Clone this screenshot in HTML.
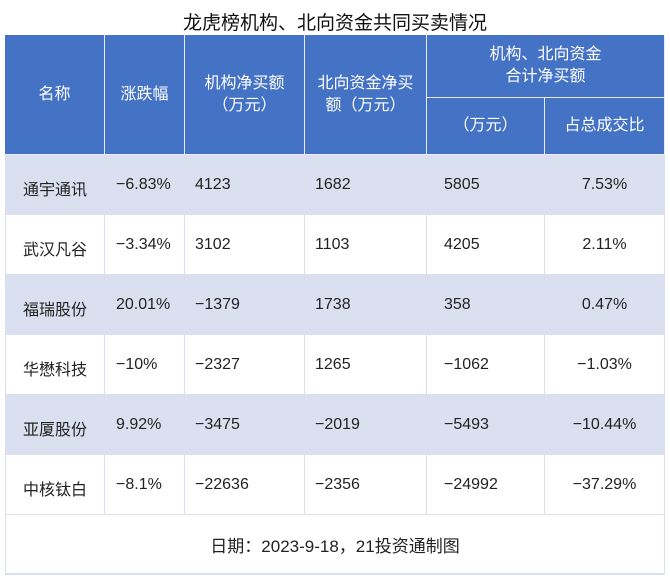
<!DOCTYPE html>
<html><head><meta charset="utf-8"><style>
body{margin:0;width:670px;height:580px;background:#fff;font-family:"Liberation Sans","Noto Sans CJK SC",sans-serif;position:relative;overflow:hidden}
.title{position:absolute;left:0;top:8px;width:670px;text-align:center;font-size:19px;color:#111}
.c{position:absolute;box-sizing:border-box;display:flex;align-items:center;font-size:16px;color:#222}
.h{background:#4472c4;color:#fff;justify-content:center;text-align:center;line-height:22px;border-right:1px solid #e8ecf7;border-bottom:1px solid #e8ecf7}
.d{border-right:1px solid #dbe0f0;border-bottom:1px solid #dbe0f0}
</style></head><body>
<div class="title">龙虎榜机构、北向资金共同买卖情况</div>
<div id="tbl"></div>
<script>
const names=["通宇通讯","武汉凡谷","福瑞股份","华懋科技","亚厦股份","中核钛白"];
const changes=["−6.83%","−3.34%","20.01%","−10%","9.92%","−8.1%"];
const instBuy=["4123","3102","−1379","−2327","−3475","−22636"];
const northBuy=["1682","1103","1738","1265","−2019","−2356"];
const totalBuy=["5805","4205","358","−1062","−5493","−24992"];
const ratio=["7.53%","2.11%","0.47%","−1.03%","−10.44%","−37.29%"];
const cols=[5,105,185,305,427,545,665];
const tbl=document.getElementById('tbl');
function cell(x,y,w,h,cls,txt,name,style){
 const d=document.createElement('div');
 d.className='c '+cls;
 d.style.left=x+'px';d.style.top=y+'px';d.style.width=w+'px';d.style.height=h+'px';
 if(style)d.style.cssText+=style;
 d.innerHTML=txt;
 
 
 tbl.appendChild(d);return d;
}
const hdr=["名称","涨跌幅","机构净买额<br>（万元）","北向资金净买<br>额（万元）"];
for(let i=0;i<4;i++)cell(cols[i],35,cols[i+1]-cols[i],120,'h',hdr[i],'header-'+i);
cell(427,35,238,63,'h','机构、北向资金<br>合计净买额','header-combined');
cell(427,98,118,57,'h','（万元）','header-total-unit');
cell(545,98,120,57,'h','占总成交比','header-ratio');
const pads=[0,11,10,10,17,0];
for(let r=0;r<names.length;r++){
 const y=155+r*60,bg=r%2==0?'#dbe0f1':'#fff';
 const vals=[names[r],changes[r],instBuy[r],northBuy[r],totalBuy[r],ratio[r]];
 for(let c=0;c<6;c++){
  const st='background:'+bg+';'+(c==0||c==5?'justify-content:center;':'padding-left:'+pads[c]+'px;')+(c==0?'padding-top:6px;':'')+(c==0?'border-left:1px solid #dbe0f0;':'');
  cell(cols[c],y,cols[c+1]-cols[c],60,'d',vals[c],'cell-r'+r+'-c'+c,st);
 }
}
cell(5,515,660,60,'d','日期：2023-9-18，21投资通制图','footer-note','justify-content:center;font-size:17px;border-left:1px solid #dbe0f0;border-right:1px solid #dbe0f0;border-bottom:2px solid #dbe0f0');
</script>
</body></html>
